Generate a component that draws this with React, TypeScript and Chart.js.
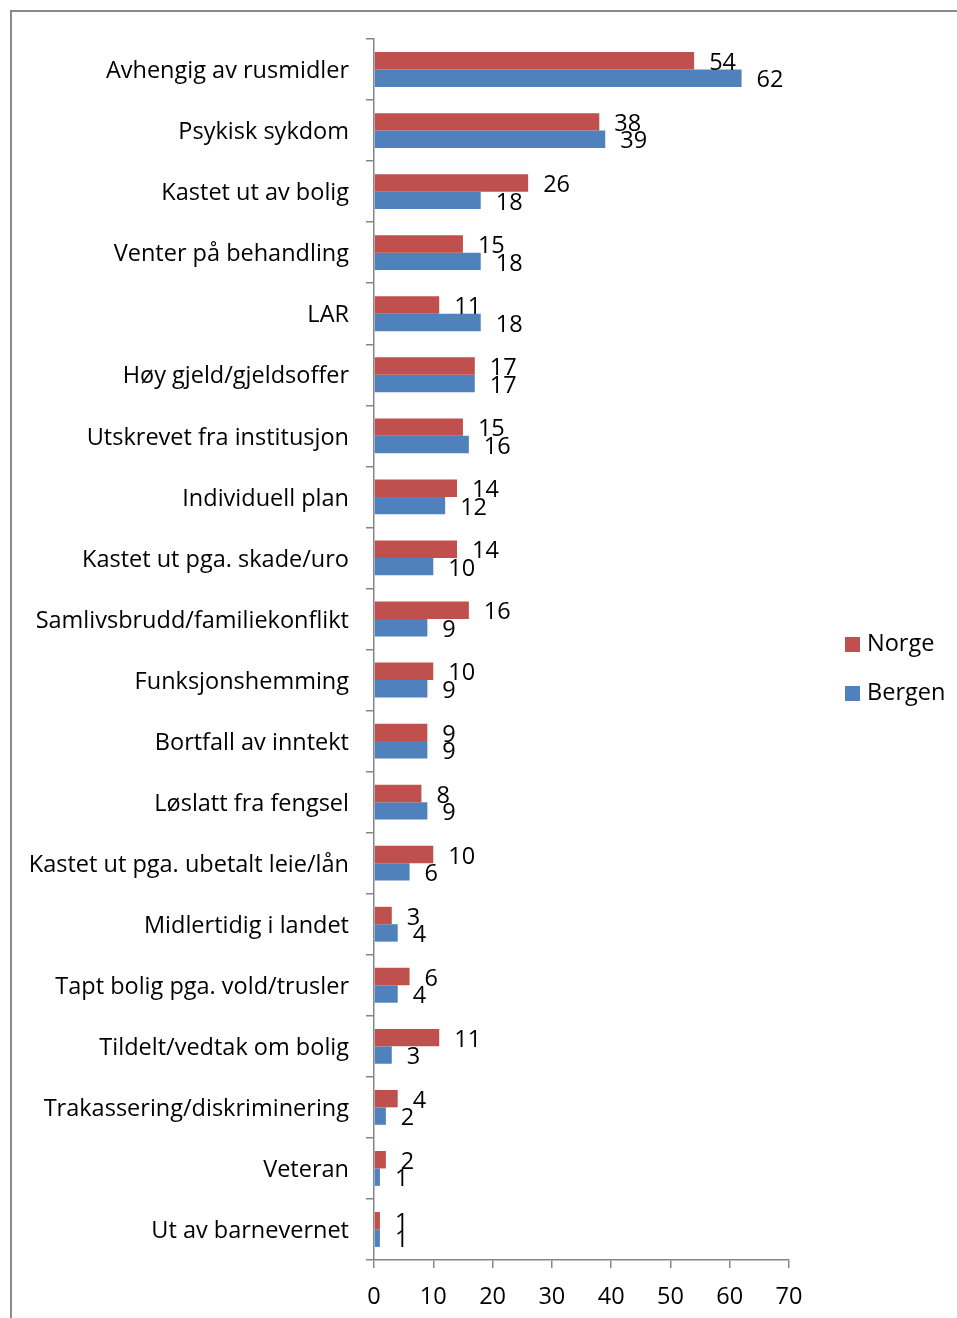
import React, { useEffect, useRef } from "react";
import { Chart, registerables } from "chart.js";

Chart.register(...registerables);

const categories = [
  "Avhengig av rusmidler",
  "Psykisk sykdom",
  "Kastet ut av bolig",
  "Venter på behandling",
  "LAR",
  "Høy gjeld/gjeldsoffer",
  "Utskrevet fra institusjon",
  "Individuell plan",
  "Kastet ut pga. skade/uro",
  "Samlivsbrudd/familiekonflikt",
  "Funksjonshemming",
  "Bortfall av inntekt",
  "Løslatt fra fengsel",
  "Kastet ut pga. ubetalt leie/lån",
  "Midlertidig i landet",
  "Tapt bolig pga. vold/trusler",
  "Tildelt/vedtak om bolig",
  "Trakassering/diskriminering",
  "Veteran",
  "Ut av barnevernet",
];

const norge = [54, 38, 26, 15, 11, 17, 15, 14, 14, 16, 10, 9, 8, 10, 3, 6, 11, 4, 2, 1];
const bergen = [62, 39, 18, 18, 18, 17, 16, 12, 10, 9, 9, 9, 9, 6, 4, 4, 3, 2, 1, 1];

const seriesNames = ["Norge", "Bergen"];
const seriesColors = ["#C0504D", "#4F81BD"];
const xTicks = [0, 10, 20, 30, 40, 50, 60, 70];

const FONT_FAMILY = "'Open Sans', sans-serif";
const FONT_SIZE = 23.5;
const AXIS_COLOR = "#868686";

const W = 957;
const H = 1318;

const dataLabelPlugin = {
  id: "dataLabels",
  afterDatasetsDraw(chart: any) {
    const ctx = chart.ctx;
    ctx.save();
    ctx.font = `${FONT_SIZE}px ${FONT_FAMILY}`;
    ctx.fillStyle = "#000";
    ctx.textAlign = "left";
    ctx.textBaseline = "middle";
    chart.data.datasets.forEach((ds: any, di: number) => {
      const meta = chart.getDatasetMeta(di);
      meta.data.forEach((el: any, i: number) => {
        ctx.fillText(String(ds.data[i]), el.x + 15, el.y + 2.5);
      });
    });
    ctx.restore();
  },
};

const legendPlugin = {
  id: "customLegend",
  afterDraw(chart: any) {
    const ctx = chart.ctx;
    const area = chart.chartArea;
    ctx.save();
    ctx.font = `${FONT_SIZE}px ${FONT_FAMILY}`;
    ctx.textAlign = "left";
    ctx.textBaseline = "middle";
    const x0 = area.right + 56;
    const yStart = chart.height / 2 - 14.5;
    chart.data.datasets.forEach((ds: any, i: number) => {
      const cy = yStart + i * 49;
      ctx.fillStyle = ds.backgroundColor;
      ctx.fillRect(x0, cy - 7.5, 15, 15);
      ctx.fillStyle = "#000";
      ctx.fillText(ds.label, x0 + 22, cy);
    });
    ctx.restore();
  },
};

export default function App() {
  const ref = useRef<HTMLCanvasElement | null>(null);

  useEffect(() => {
    if (!ref.current) return;
    const chart = new Chart(ref.current, {
      type: "bar",
      data: {
        labels: categories,
        datasets: [
          { label: seriesNames[0], data: norge, backgroundColor: seriesColors[0] },
          { label: seriesNames[1], data: bergen, backgroundColor: seriesColors[1] },
        ],
      },
      options: {
        indexAxis: "y",
        responsive: false,
        animation: false,
        devicePixelRatio: 1,
        datasets: {
          bar: { categoryPercentage: 0.571, barPercentage: 1, borderWidth: 0 },
        },
        layout: { padding: { top: 39, right: 168, left: 0, bottom: 0 } },
        plugins: {
          legend: { display: false },
          tooltip: { enabled: false },
        },
        scales: {
          x: {
            type: "linear",
            min: 0,
            max: 70,
            afterBuildTicks: (scale: any) => {
              scale.ticks = xTicks.map((v) => ({ value: v }));
            },
            afterFit: (scale: any) => {
              scale.height = H - 1260;
            },
            ticks: {
              font: { family: FONT_FAMILY, size: FONT_SIZE },
              color: "#000",
              padding: 15,
            },
            grid: {
              drawOnChartArea: false,
              drawTicks: true,
              tickLength: 8,
              color: AXIS_COLOR,
              lineWidth: 1.5,
            },
            border: { display: true, color: AXIS_COLOR, width: 1.5 },
          },
          y: {
            type: "category",
            offset: true,
            afterFit: (scale: any) => {
              scale.width = 374;
            },
            ticks: {
              font: { family: FONT_FAMILY, size: FONT_SIZE },
              color: "#000",
              padding: 17,
              labelOffset: 2,
              autoSkip: false,
            },
            grid: {
              offset: true,
              drawOnChartArea: false,
              drawTicks: true,
              tickLength: 8,
              color: AXIS_COLOR,
              lineWidth: 1.5,
            },
            border: { display: true, color: AXIS_COLOR, width: 1.5 },
          },
        },
      },
      plugins: [dataLabelPlugin, legendPlugin],
    });
    return () => chart.destroy();
  }, []);

  return (
    <div
      style={{
        position: "fixed",
        left: 0,
        top: 0,
        width: W,
        height: H,
        overflow: "hidden",
        background: "#fff",
      }}
    >
      <div
        style={{
          position: "absolute",
          left: 10,
          top: 10,
          width: 1000,
          height: 1400,
          border: `2px solid #898989`,
          boxSizing: "border-box",
        }}
      />
      <canvas
        ref={ref}
        width={W}
        height={H}
        style={{ position: "absolute", left: 0, top: 0, width: W, height: H }}
      />
    </div>
  );
}
